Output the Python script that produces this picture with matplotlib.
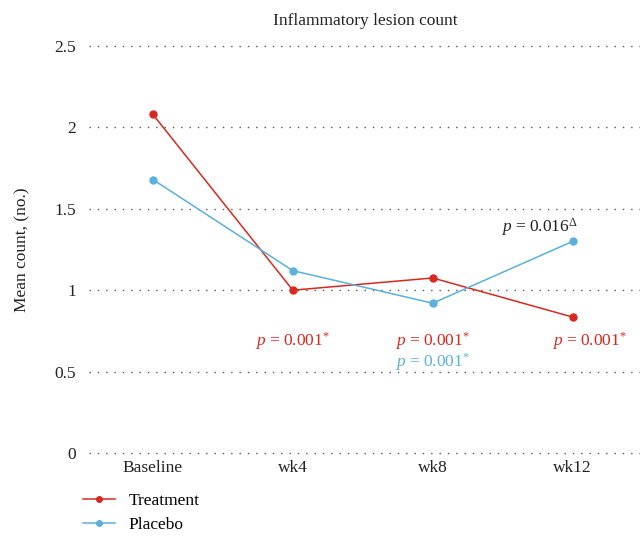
import matplotlib
matplotlib.use("Agg")
import matplotlib.pyplot as plt

# fonts: serif look like the original
plt.rcParams['font.family'] = ['Liberation Serif', 'DejaVu Serif']
plt.rcParams['mathtext.fontset'] = 'custom'
plt.rcParams['mathtext.rm'] = 'Liberation Serif'
plt.rcParams['mathtext.it'] = 'Liberation Serif:italic'

# data
weeks = ['Baseline', 'wk4', 'wk8', 'wk12']
treatment = [2.08, 1.0, 1.075, 0.835]
placebo = [1.68, 1.12, 0.92, 1.30]
yticks = [0, 0.5, 1, 1.5, 2, 2.5]
ytick_labels = ['0', '0.5', '1', '1.5', '2', '2.5']

red = '#d9281f'
blue = '#5bb0dc'
txt = '#222222'

fig = plt.figure(figsize=(6.4, 5.36), dpi=100)
ax = fig.add_axes([0.1384, 0.155, 0.8656, 0.759])

x = list(range(len(weeks)))
ax.plot(x, treatment, color=red, marker='o', markersize=5, lw=1.1, label='Treatment', clip_on=False, zorder=3)
ax.plot(x, placebo, color=blue, marker='o', markersize=5, lw=1.1, label='Placebo', clip_on=False, zorder=3)

ax.set_xlim(-0.46, 3.5)
ax.set_ylim(0, 2.5)
ax.set_yticks(yticks)
ax.set_yticklabels(ytick_labels)
ax.set_xticks(x)
ax.set_xticklabels(weeks)
ax.tick_params(axis='y', length=0, labelsize=12.5, colors=txt, pad=9)
ax.tick_params(axis='x', length=0, labelsize=12.5, colors=txt, pad=5)
for s in ax.spines.values():
    s.set_visible(False)
ax.yaxis.grid(True, linestyle=(0, (1, 5)), color='#555555', lw=1)
for g in ax.get_ygridlines():
    g.set_clip_on(False)
ax.set_axisbelow(True)

ax.set_title('Inflammatory lesion count', fontsize=12.5, color=txt, pad=15)
ax.set_ylabel('Mean count, (no.)', fontsize=12.5, color=txt, labelpad=17)

# p-value annotations
fs = 12.5
ax.text(1, 0.69, r'$p$ = 0.001$^{*}$', color=red, fontsize=fs, ha='center', va='center')
ax.text(2, 0.69, r'$p$ = 0.001$^{*}$', color=red, fontsize=fs, ha='center', va='center')
ax.text(2, 0.56, r'$p$ = 0.001$^{*}$', color=blue, fontsize=fs, ha='center', va='center')
ax.text(3.12, 0.69, r'$p$ = 0.001$^{*}$', color=red, fontsize=fs, ha='center', va='center')
ax.text(2.76, 1.39, r'$p$ = 0.016$^{\Delta}$', color=txt, fontsize=fs, ha='center', va='center')

fig.legend(loc='upper left', bbox_to_anchor=(0.119, 0.093), frameon=False, fontsize=12.5,
           handlelength=1.85, labelspacing=0.45, handletextpad=0.75, borderaxespad=0, markerscale=0.8)

fig.savefig('out.png', dpi=100)
